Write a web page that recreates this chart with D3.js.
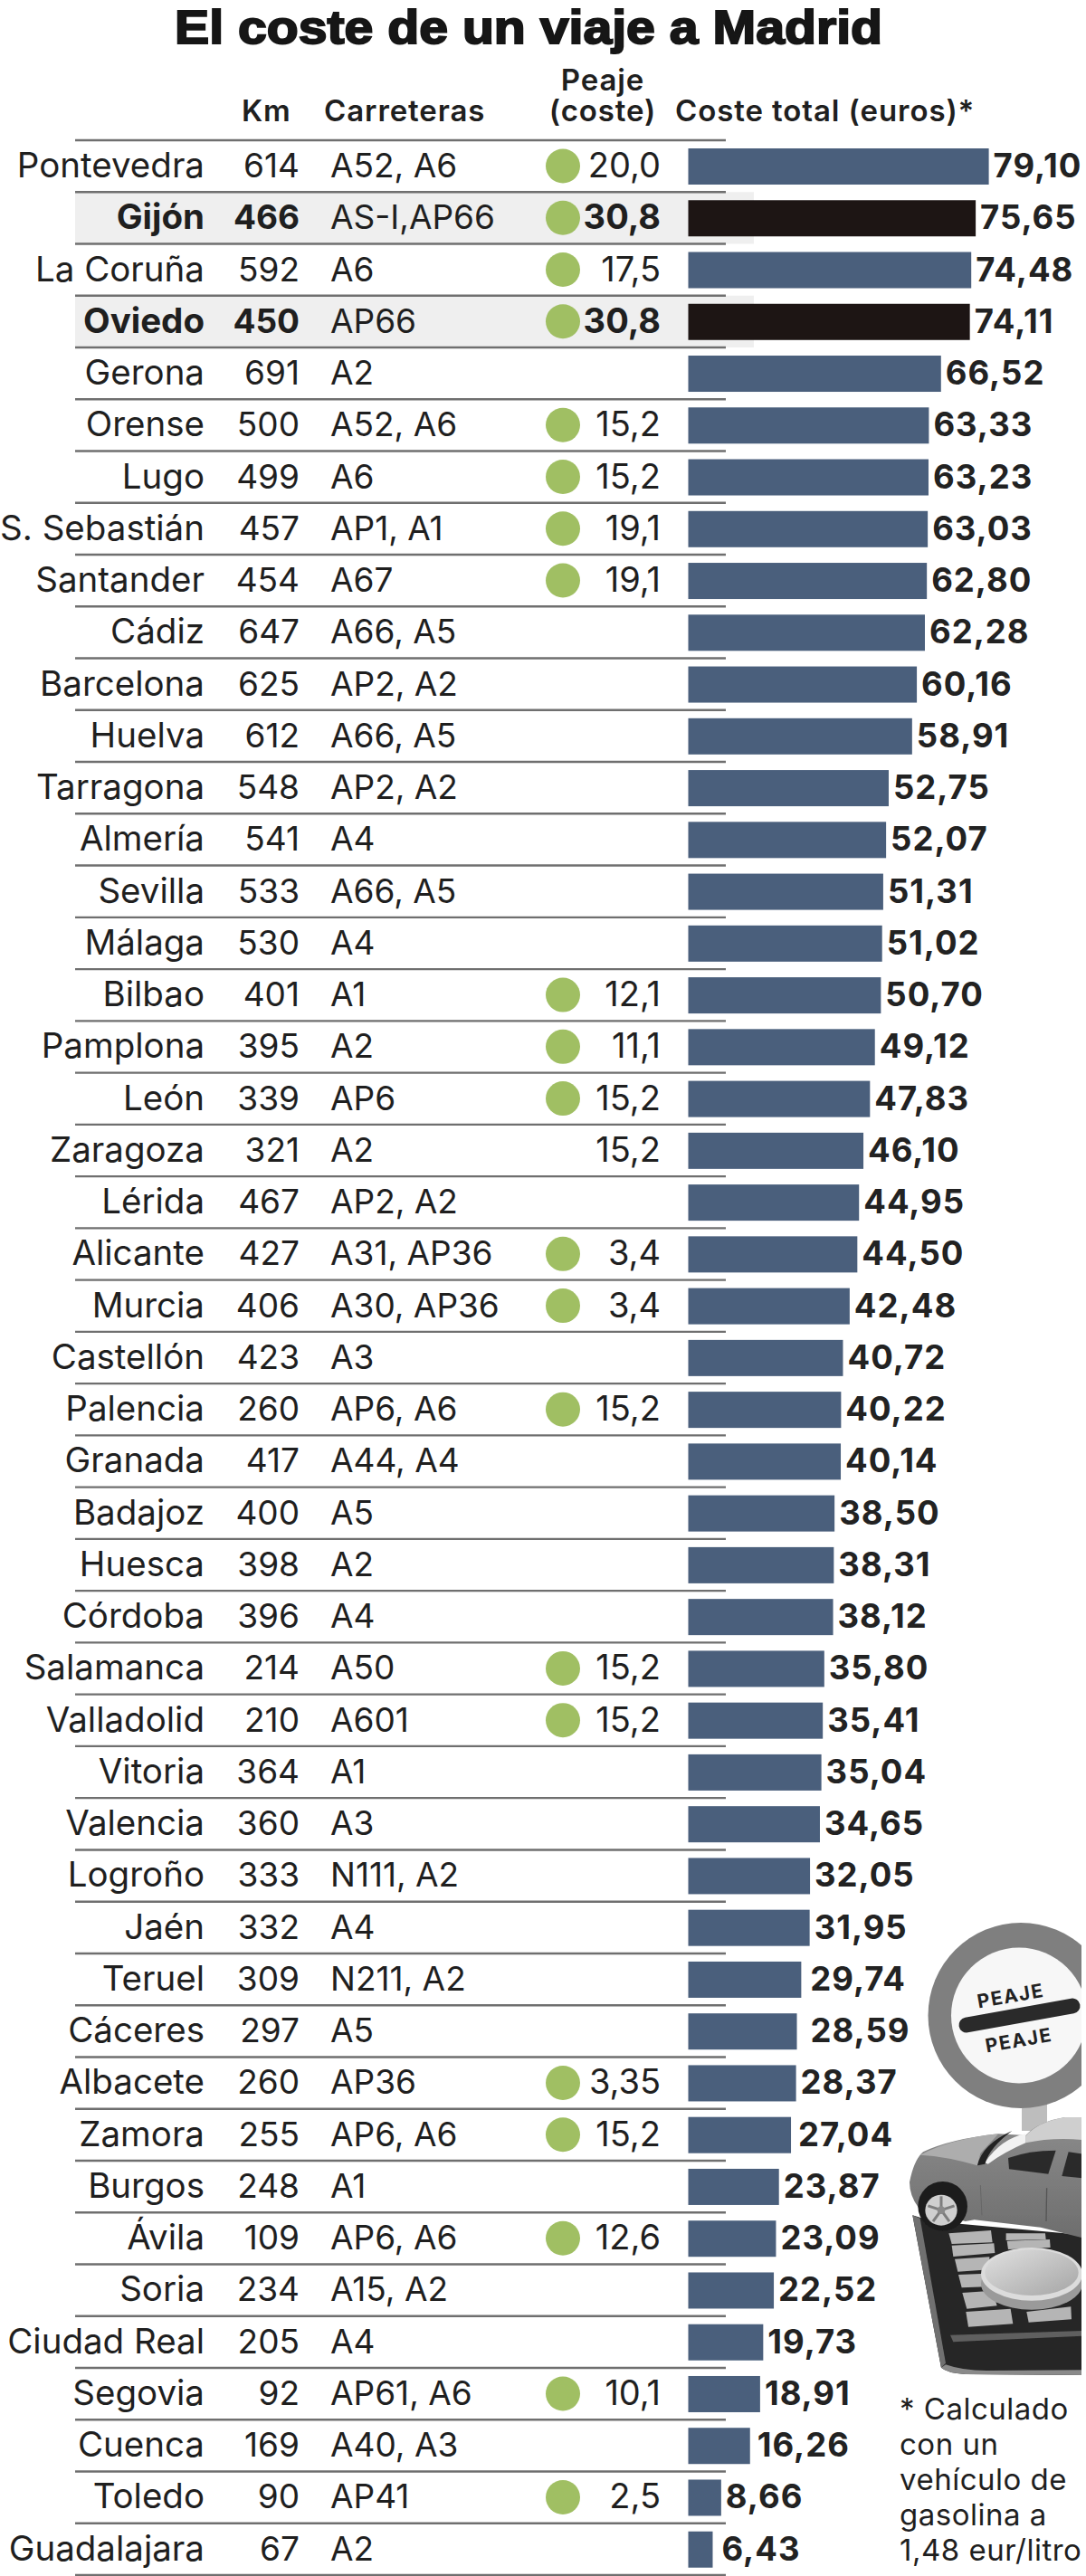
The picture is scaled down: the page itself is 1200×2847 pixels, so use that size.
<!DOCTYPE html>
<html>
<head>
<meta charset="utf-8">
<style>
  html, body { margin: 0; padding: 0; background: #fff; }
  svg { display: block; }
  text { font-family: Inter, "Liberation Sans", sans-serif; fill: #1f1f1f; }
</style>
</head>
<body>
<svg id="chart" width="1200" height="2847"></svg>
<script src="https://cdnjs.cloudflare.com/ajax/libs/d3/7.8.5/d3.min.js"></script>
<script>
// data
var cities = ["Pontevedra","Gijón","La Coruña","Oviedo","Gerona","Orense","Lugo","S. Sebastián","Santander","Cádiz","Barcelona","Huelva","Tarragona","Almería","Sevilla","Málaga","Bilbao","Pamplona","León","Zaragoza","Lérida","Alicante","Murcia","Castellón","Palencia","Granada","Badajoz","Huesca","Córdoba","Salamanca","Valladolid","Vitoria","Valencia","Logroño","Jaén","Teruel","Cáceres","Albacete","Zamora","Burgos","Ávila","Soria","Ciudad Real","Segovia","Cuenca","Toledo","Guadalajara"];
var km = [614,466,592,450,691,500,499,457,454,647,625,612,548,541,533,530,401,395,339,321,467,427,406,423,260,417,400,398,396,214,210,364,360,333,332,309,297,260,255,248,109,234,205,92,169,90,67];
var roads = ["A52, A6","AS-I,AP66","A6","AP66","A2","A52, A6","A6","AP1, A1","A67","A66, A5","AP2, A2","A66, A5","AP2, A2","A4","A66, A5","A4","A1","A2","AP6","A2","AP2, A2","A31, AP36","A30, AP36","A3","AP6, A6","A44, A4","A5","A2","A4","A50","A601","A1","A3","N111, A2","A4","N211, A2","A5","AP36","AP6, A6","A1","AP6, A6","A15, A2","A4","AP61, A6","A40, A3","AP41","A2"];
var peaje = ["20,0","30,8","17,5","30,8","","15,2","15,2","19,1","19,1","","","","","","","","12,1","11,1","15,2","15,2","","3,4","3,4","","15,2","","","","","15,2","15,2","","","","","","","3,35","15,2","","12,6","","","10,1","","2,5",""];
var total = [79.10,75.65,74.48,74.11,66.52,63.33,63.23,63.03,62.80,62.28,60.16,58.91,52.75,52.07,51.31,51.02,50.70,49.12,47.83,46.10,44.95,44.50,42.48,40.72,40.22,40.14,38.50,38.31,38.12,35.80,35.41,35.04,34.65,32.05,31.95,29.74,28.59,28.37,27.04,23.87,23.09,22.52,19.73,18.91,16.26,8.66,6.43];
var highlighted = ["Gijón","Oviedo"];
var noDot = ["Zaragoza"]; // tiene peaje pero sin punto verde
var footnote = ["* Calculado","con un","vehículo de","gasolina a","1,48 eur/litro"];

var rows = cities.map(function(c, i) {
  return {city: c, km: km[i], road: roads[i], peaje: peaje[i], total: total[i], hi: highlighted.indexOf(c) >= 0};
});

var svg = d3.select("#chart");
var x = d3.scaleLinear().domain([0, 79.1]).range([760.5, 1092.6]);
var y = d3.scaleBand().domain(cities).range([155, 2846]);

// title and header
svg.append("text").attr("x", 193).attr("y", 47.5).attr("textLength", 782).attr("lengthAdjust", "spacingAndGlyphs")
  .style("font-family", "'Liberation Sans', sans-serif")
  .style("font-size", "52px").style("font-weight", 700)
  .style("fill", "#161616").style("stroke", "#161616").style("stroke-width", 2)
  .text("El coste de un viaje a Madrid");

var headers = [
  {t: "Km", x: 267, y: 134, a: "start"},
  {t: "Carreteras", x: 358, y: 134, a: "start"},
  {t: "Coste total (euros)*", x: 746, y: 134, a: "start"}
];
svg.selectAll(".head").data(headers).enter().append("text").attr("class", "head")
  .attr("x", function(d) { return d.x; }).attr("y", function(d) { return d.y; })
  .attr("text-anchor", function(d) { return d.a; })
  .style("font-size", "33px").style("font-weight", 600).style("letter-spacing", "0.9px").text(function(d) { return d.t; });

// two line header for the toll column
var peajeHead = svg.append("text").attr("text-anchor", "middle")
  .style("font-size", "33px").style("font-weight", 600).style("letter-spacing", "0.9px");
peajeHead.append("tspan").attr("x", 666).attr("y", 100).text("Peaje");
peajeHead.append("tspan").attr("x", 666).attr("y", 134).text("(coste)");

// grey band behind Gijon and Oviedo
svg.selectAll(".band").data(rows.filter(function(d) { return d.hi; })).enter().append("rect")
  .attr("x", 83).attr("width", 750)
  .attr("y", function(d) { return y(d.city); }).attr("height", y.bandwidth())
  .attr("fill", "#efefef");

// separators
var linesY = cities.map(function(c) { return y(c); }).concat([y.range()[1]]);
svg.selectAll(".sep").data(linesY).enter().append("line")
  .attr("x1", 83).attr("x2", 802)
  .attr("y1", function(d) { return d; }).attr("y2", function(d) { return d; })
  .attr("stroke", "#6f6f6f").attr("stroke-width", 2.4);

// bars
svg.selectAll(".bar").data(rows).enter().append("rect").attr("class", "bar")
  .attr("x", x(0))
  .attr("y", function(d) { return y(d.city) + 9; })
  .attr("width", function(d) { return x(d.total) - x(0); })
  .attr("height", 40)
  .attr("fill", function(d) { return d.hi ? "#1d1514" : "#4a5f7c"; });

// green dots
svg.selectAll(".dot").data(rows.filter(function(d) { return d.peaje && noDot.indexOf(d.city) < 0; })).enter().append("circle")
  .attr("cx", 622)
  .attr("cy", function(d) { return y(d.city) + 28.5; })
  .attr("r", 19)
  .attr("fill", "#a0bf63");

function rowText(cls, xpos, anchor, size, fn, boldFn) {
  svg.selectAll("." + cls).data(rows).enter().append("text").attr("class", cls)
    .attr("x", xpos)
    .attr("y", function(d) { return y(d.city) + 41; })
    .attr("text-anchor", anchor)
    .style("font-size", size + "px")
    .style("font-weight", function(d) { return boldFn && d.hi ? 700 : 400; })
    .text(fn);
}
rowText("city", 226, "end", 38.5, function(d) { return d.city; }, true);
rowText("km", 331, "end", 37, function(d) { return d.km; }, true);
rowText("road", 365, "start", 37, function(d) { return d.road; }, false);
rowText("pj", 730, "end", 38, function(d) { return d.peaje; }, true);

// value labels, some sit further from the bar in the original
var labelNudge = {"Teruel": 5, "Cáceres": 10, "Guadalajara": 5, "Cuenca": 3, "Zamora": 3};
svg.selectAll(".val").data(rows).enter().append("text").attr("class", "val")
  .attr("x", function(d) { return x(d.total) + 5 + (labelNudge[d.city] || 0); })
  .attr("y", function(d) { return y(d.city) + 41; })
  .style("font-size", "36.5px").style("font-weight", 700).style("letter-spacing", "1px").style("fill", "#222")
  .text(function(d) { return d.total.toFixed(2).replace(".", ","); });

// footnote
svg.selectAll(".note").data(footnote).enter().append("text").attr("class", "note")
  .attr("x", 994)
  .attr("y", function(d, i) { return 2674 + i * 39; })
  .style("font-size", "33px").style("letter-spacing", "0.5px").text(function(d) { return d; });

// sign
var defs = svg.append("defs");
defs.append("clipPath").attr("id", "picClip").append("rect").attr("x", 980).attr("y", 2100).attr("width", 215).attr("height", 560);
var soft = defs.append("filter").attr("id", "soft");
soft.append("feGaussianBlur").attr("stdDeviation", 0.9);
var coinGrad = defs.append("linearGradient").attr("id", "coinGrad").attr("x1", 0).attr("x2", 1).attr("y1", 0).attr("y2", 1);
coinGrad.append("stop").attr("offset", 0).attr("stop-color", "#e0e0e0");
coinGrad.append("stop").attr("offset", 1).attr("stop-color", "#a5a5a5");
var bodyGrad = defs.append("linearGradient").attr("id", "bodyGrad").attr("x1", 0).attr("x2", 0).attr("y1", 0).attr("y2", 1);
bodyGrad.append("stop").attr("offset", 0).attr("stop-color", "#8c8c8c");
bodyGrad.append("stop").attr("offset", 1).attr("stop-color", "#6e6e6e");

var pic = svg.append("g").attr("clip-path", "url(#picClip)");
pic.append("rect").attr("x", 1129).attr("y", 2325).attr("width", 28).attr("height", 30).attr("fill", "#bdbdbd");
pic.append("circle").attr("cx", 1128).attr("cy", 2227.5).attr("r", 102.5).attr("fill", "#7f7f7f");
pic.append("circle").attr("cx", 1126).attr("cy", 2227.5).attr("r", 75).attr("fill", "#f7f7f7");
pic.append("line").attr("x1", 1068).attr("y1", 2238).attr("x2", 1185).attr("y2", 2217)
  .attr("stroke", "#2a2a2a").attr("stroke-width", 17).attr("stroke-linecap", "round");
[[1118, 2213], [1127, 2262]].forEach(function(p) {
  pic.append("text").attr("transform", "translate(" + p[0] + "," + p[1] + ") rotate(-10)")
    .attr("text-anchor", "middle").style("font-size", "21px").style("font-weight", 700)
    .style("letter-spacing", "1.5px").style("fill", "#222").text("PEAJE");
});

// car on calculator, coordinates taken from a 3x crop at (990,2340)
var art = pic.append("g").attr("transform", "translate(990,2340) scale(0.3333)").attr("filter", "url(#soft)");
function shape(d, fill) { return art.append("path").attr("d", d).attr("fill", fill); }
shape("M55,325 L120,345 L620,390 L620,855 L230,852 Q170,848 150,830 Z", "#262626");
shape("M55,325 L80,335 L165,815 L150,830 Z", "#707070");
shape("M180,722 L620,708 L620,725 L190,745 Z", "#5f5f5f");
shape("M165,820 Q220,840 300,840 L620,838 L620,855 L230,852 Q170,848 150,830 Z", "#8a8a8a");
var keys = [
  "M175,385 L315,375 L320,415 L185,420 Z",
  "M185,425 L325,418 L328,450 L190,462 Z",
  "M195,470 L310,463 L310,505 L205,512 Z",
  "M207,522 L300,518 L300,562 L218,565 Z",
  "M220,582 L320,575 L335,625 L235,635 Z",
  "M232,645 L380,635 L388,685 L240,695 Z",
  "M433,645 L580,628 L582,670 L440,680 Z",
  "M365,385 L495,385 L497,405 L365,408 Z",
  "M368,410 L510,405 L512,432 L372,438 Z"
];
keys.forEach(function(k) { shape(k, "#b5b5b5"); });
// coin
art.append("ellipse").attr("cx", 450).attr("cy", 552).attr("rx", 168).attr("ry", 86).attr("fill", "#9a9a9a");
art.append("ellipse").attr("cx", 450).attr("cy", 520).attr("rx", 168).attr("ry", 88).attr("fill", "#dcdcdc");
art.append("ellipse").attr("cx", 450).attr("cy", 515).attr("rx", 155).attr("ry", 76).attr("fill", "url(#coinGrad)");
// car body
shape("M45,215 Q60,140 90,115 Q180,72 340,55 L430,60 Q470,15 560,0 L620,0 L620,400 L480,365 L260,340 L230,345 L75,300 Q45,260 45,215 Z", "url(#bodyGrad)");
shape("M80,125 Q180,72 340,55 L280,120 L270,160 Q170,130 80,125 Z", "#adadad");
shape("M430,62 Q470,15 560,0 L620,0 L620,75 Q520,65 430,85 Z", "#cfcfcf");
shape("M295,150 Q350,70 430,55 L430,85 Q360,115 305,155 Z", "#f2f2f2");
shape("M270,160 Q285,90 385,45 Q310,100 295,155 Z", "#222");
shape("M372,135 Q440,110 530,110 L505,188 L375,172 Z", "#2c2c2c");
shape("M550,195 L572,115 L620,122 L620,202 Z", "#2c2c2c");
art.append("path").attr("d", "M500,235 L498,345").attr("stroke", "#555").attr("stroke-width", 4).attr("fill", "none");
art.append("path").attr("d", "M280,225 L285,325").attr("stroke", "#666").attr("stroke-width", 3).attr("fill", "none");
art.append("circle").attr("cx", 155).attr("cy", 295).attr("r", 82).attr("fill", "#1e1e1e");
art.append("ellipse").attr("cx", 150).attr("cy", 308).attr("rx", 53).attr("ry", 51).attr("fill", "#cfcfcf");
d3.range(5).forEach(function(i) {
  var a = i * 2 * Math.PI / 5 - Math.PI / 2;
  art.append("line").attr("x1", 150).attr("y1", 308)
    .attr("x2", 150 + 46 * Math.cos(a)).attr("y2", 308 + 46 * Math.sin(a))
    .attr("stroke", "#7d7d7d").attr("stroke-width", 9);
});
art.append("circle").attr("cx", 150).attr("cy", 308).attr("r", 13).attr("fill", "#8a8a8a");
</script>
</body>
</html>
